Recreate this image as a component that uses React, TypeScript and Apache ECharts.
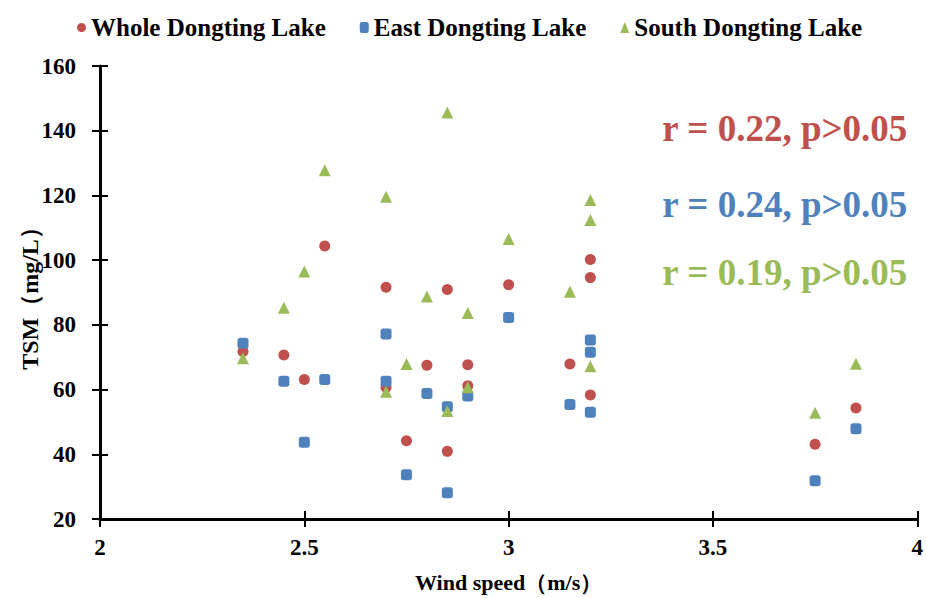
import React, { useEffect, useRef } from "react";
import * as echarts from "echarts";

const seriesNames = ["Whole Dongting Lake", "East Dongting Lake", "South Dongting Lake"];
const colors = ["#C0504D", "#4F81BD", "#9BBB59"];
const symbols = ["circle", "roundRect", "triangle"];

const wholeData: [number, number][] = [
  [2.35, 71.8], [2.45, 70.7], [2.5, 63.1], [2.55, 104.4], [2.7, 91.6], [2.7, 60.7],
  [2.75, 44.2], [2.8, 67.5], [2.85, 90.9], [2.85, 40.9], [2.9, 67.7], [2.9, 61.2],
  [3.0, 92.4], [3.15, 67.9], [3.2, 100.2], [3.2, 94.6], [3.2, 58.3], [3.75, 43.1], [3.85, 54.3],
];
const eastData: [number, number][] = [
  [2.35, 74.3], [2.45, 62.6], [2.5, 43.7], [2.55, 63.1], [2.7, 77.2], [2.7, 62.6],
  [2.75, 33.7], [2.8, 58.8], [2.85, 54.7], [2.85, 28.1], [2.9, 58.0], [3.0, 82.3],
  [3.15, 55.4], [3.2, 75.3], [3.2, 71.5], [3.2, 53.0], [3.75, 31.8], [3.85, 47.9],
];
const southData: [number, number][] = [
  [2.35, 69.7], [2.45, 85.3], [2.5, 96.5], [2.55, 127.8], [2.7, 119.6], [2.7, 59.3],
  [2.75, 67.9], [2.8, 88.8], [2.85, 145.6], [2.85, 53.4], [2.9, 83.7], [2.9, 60.7],
  [3.0, 106.5], [3.15, 90.2], [3.2, 118.6], [3.2, 112.4], [3.2, 67.2], [3.75, 52.8], [3.85, 68.0],
];
const allData = [wholeData, eastData, southData];

const annotations = ["r = 0.22, p>0.05", "r = 0.24, p>0.05", "r = 0.19, p>0.05"];

const xTitle = "Wind speed（m/s）";
const yTitle = "TSM（mg/L）";

const FONT = "'Liberation Serif', 'Times New Roman', serif";

export default function App() {
  const ref = useRef<HTMLDivElement>(null);
  useEffect(() => {
    if (!ref.current) return;
    const chart = echarts.init(ref.current, undefined, { renderer: "svg" });
    const xBase = { type: "value", min: 2, max: 4, interval: 0.5 };
    const yBase = { type: "value", min: 20, max: 160, interval: 20 };
    const tickStyle = { color: "#000", width: 2 };
    chart.setOption({
      animation: false,
      backgroundColor: "#ffffff",
      textStyle: { fontFamily: FONT },
      legend: {
        top: 10,
        left: 72,
        itemWidth: 9,
        itemHeight: 11,
        itemGap: 34,
        textStyle: { fontFamily: FONT, fontWeight: "bold", fontSize: 25, color: "#000" },
        data: seriesNames.map((n, i) => ({ name: n, icon: symbols[i] })),
      },
      grid: { left: 100, right: 7, top: 66, bottom: 76, containLabel: false },
      xAxis: [
        {
          ...xBase,
          name: xTitle,
          nameLocation: "middle",
          nameGap: 52,
          nameMoveOverlap: false,
          nameTextStyle: { fontFamily: FONT, fontWeight: "bold", fontSize: 22, color: "#000" },
          axisLine: { show: true, onZero: false, lineStyle: { color: "#000", width: 3 } },
          axisTick: { show: true, inside: false, length: 8, lineStyle: tickStyle },
          axisLabel: { margin: 17, fontFamily: FONT, fontWeight: "bold", fontSize: 23, color: "#000" },
          splitLine: { show: false },
        },
        {
          ...xBase,
          position: "bottom",
          axisLine: { show: false },
          axisTick: { show: true, inside: true, length: 8, lineStyle: tickStyle },
          axisLabel: { show: false },
          splitLine: { show: false },
        },
      ],
      yAxis: [
        {
          ...yBase,
          name: yTitle,
          nameLocation: "middle",
          nameGap: 58,
          nameMoveOverlap: false,
          nameTextStyle: { fontFamily: FONT, fontWeight: "bold", fontSize: 24, color: "#000" },
          axisLine: { show: true, onZero: false, lineStyle: { color: "#000", width: 3 } },
          axisTick: { show: true, inside: false, length: 8, lineStyle: tickStyle },
          axisLabel: { margin: 24, fontFamily: FONT, fontWeight: "bold", fontSize: 23, color: "#000" },
          splitLine: { show: false },
        },
        {
          ...yBase,
          position: "left",
          axisLine: { show: false },
          axisTick: { show: true, inside: true, length: 8, lineStyle: tickStyle },
          axisLabel: { show: false },
          splitLine: { show: false },
        },
      ],
      series: seriesNames.map((n, i) => ({
        name: n,
        type: "scatter",
        symbol: symbols[i],
        symbolSize: i === 2 ? 12 : 11,
        itemStyle: { color: colors[i], opacity: 1 },
        data: allData[i],
        xAxisIndex: 0,
        yAxisIndex: 0,
        z: 3 + i,
      })),
      graphic: annotations.map((t, i) => ({
        type: "text",
        right: 18,
        top: [110, 186, 254][i],
        style: {
          text: t,
          fill: colors[i],
          font: `bold 37px ${FONT}`,
        },
      })),
    });
    return () => chart.dispose();
  }, []);
  return (
    <div
      ref={ref}
      style={{ position: "fixed", left: 0, top: 0, width: 926, height: 598 }}
    />
  );
}
